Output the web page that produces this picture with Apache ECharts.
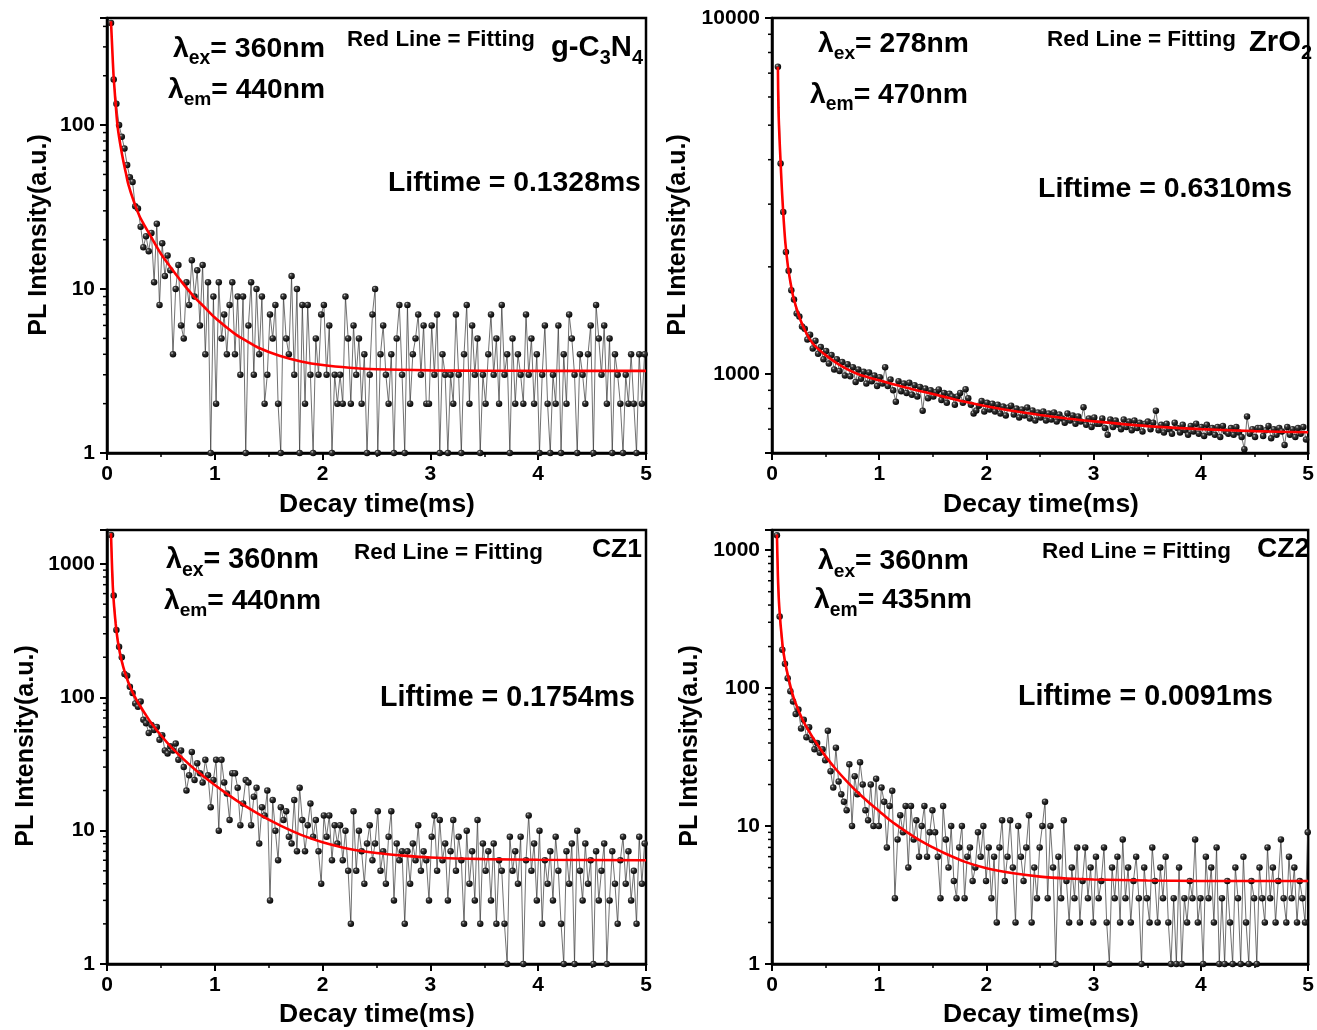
<!DOCTYPE html>
<html><head><meta charset="utf-8">
<script src="https://cdn.jsdelivr.net/npm/echarts/dist/echarts.min.js"></script>
<style>html,body{margin:0;padding:0;background:#fff}#c{width:1317px;height:1030px}</style>
</head><body><div id="c"></div>
<script>
// ---------------- DATA ----------------
// sampling: time = T0 + DT * index (ms)
const DT = 0.025;
const T0_P1 = 0.037, T0_P2 = 0.055, T0_P3 = 0.037, T0_P4 = 0.046;

// g-C3N4 counts
const I_P1 = [
420,190,135,100,85,72,57,48,45,32,
31,24,18,21,17,22,11,25,8,19,
12,16,13,4,10,14,6,5,11,8,
15,9,13,6,14,4,11,1,9,2,
11,5,7,4,8,11,4,9,3,9,
1,6,11,3,10,4,9,2,3,7,
5,8,2,1,9,5,4,12,3,10,
1,8,2,8,3,1,5,3,7,8,
3,6,1,3,2,3,2,9,5,2,
6,3,5,2,4,1,3,7,10,1,
4,6,3,2,4,1,5,8,3,1,
8,2,4,5,7,3,6,2,2,6,
3,7,1,4,3,1,3,2,7,3,
1,4,8,2,6,3,5,1,3,2,
4,7,3,5,2,8,3,4,1,5,
2,4,3,2,7,3,5,2,4,1,
3,6,2,1,3,2,6,1,4,2,
7,5,3,1,4,3,2,4,6,1,
8,5,3,6,2,5,1,4,3,2,
1,3,2,4,2,1,4,2,4];

// ZrO2 counts
const I_P2 = [
7300,3900,2850,2200,1950,1720,1620,1480,1450,1360,
1340,1250,1290,1180,1240,1140,1190,1100,1160,1070,
1130,1030,1100,1020,1080,990,1065,985,1045,950,
1030,970,1015,940,1010,955,990,925,980,940,
1045,925,965,900,836,955,895,940,885,945,
875,930,865,920,789,910,855,900,865,890,
905,845,885,830,880,865,820,865,885,830,
906,855,820,775,790,815,840,785,830,795,
825,785,820,775,810,765,805,815,770,800,
755,795,765,805,750,790,740,780,755,785,
740,775,745,780,735,770,750,730,775,740,
765,725,760,735,807,720,750,710,755,725,
725,750,705,675,745,710,740,720,700,745,
710,735,695,740,705,730,690,725,735,700,
730,789,695,720,685,725,700,680,730,705,
685,720,695,675,715,690,725,680,710,670,
720,685,705,675,710,665,715,690,680,705,
675,710,685,665,615,760,680,700,665,705,
705,670,695,715,660,700,675,705,690,632,
710,675,700,665,705,680,710,655];

// CZ1 counts
const I_P3 = [
1650,580,320,240,200,150,145,120,108,90,
85,93,68,64,54,62,57,60,48,52,
40,38,43,40,45,34,40,30,20,26,
39,24,32,27,23,34,26,15,24,34,
10,34,23,19,12,27,27,21,11,16,
24,23,11,18,21,8,15,13,20,3,
17,10,6,15,12,14,9,8,17,7,
21,12,7,11,16,9,12,7,4,13,
9,13,6,11,8,11,6,10,5,2,
14,5,10,7,4,8,11,6,8,14,
5,7,4,9,14,3,8,6,7,2,
7,4,8,6,11,5,7,6,3,9,
13,5,12,6,8,3,7,12,5,9,
6,2,10,4,7,3,12,2,8,5,
7,3,8,2,6,5,2,1,9,5,
7,4,9,1,6,13,5,8,3,10,
2,6,4,7,3,9,5,2,1,7,
4,8,1,10,5,3,8,4,6,1,
7,3,5,8,1,3,7,4,2,6,
9,4,7,3,5,2,9,4,8];

// CZ2 counts
const I_P4 = [
1285,330,190,150,118,95,80,65,70,51,
59,44,52,42,36,40,34,36,30,49,
25,19,37,21,17,15,13,28,10,23,
17,29,20,13,11,20,10,22,10,19,
15,7,14,18,3,8,12,9,14,5,
14,8,11,6,10,14,6,9,13,9,
6,3,14,8,5,10,4,3,7,10,
3,6,7,4,5,9,6,10,4,7,
3,6,2,7,11,4,6,11,5,2,
10,6,4,7,12,2,5,3,7,10,
15,3,10,5,1,6,3,11,4,2,
5,3,7,2,4,7,3,5,2,6,
3,4,7,2,1,5,3,6,2,8,
3,5,2,4,6,3,1,5,3,2,
7,4,2,5,3,6,2,1,3,1,
5,1,3,2,4,3,8,2,3,1,
6,3,5,2,7,1,3,1,4,2,
1,5,3,1,6,2,1,4,3,1,
5,3,2,7,3,5,2,4,8,3,
2,6,3,5,2,4,3,2,9];

// fitting curves
const FIT_T_P1 = [0.037,0.05,0.06,0.07,0.08,0.09,0.1,0.125,0.15,0.175,0.2,0.25,0.3,0.35,0.4,0.5,0.6,0.7,0.8,0.9,1.0,1.1,1.2,1.3,1.4,1.6,1.8,2.0,2.25,2.5,3.0,3.5,4.0,5.0];
const FIT_V_P1 = [430,280,205,165,135,112,96,75,61,51,43,34,28,24.3,21.3,16.4,13.3,10.9,9.1,7.8,6.7,5.9,5.25,4.8,4.4,3.92,3.62,3.44,3.31,3.24,3.19,3.175,3.17,3.17];
const FIT_T_P2 = [0.055,0.06,0.07,0.08,0.09,0.1,0.11,0.125,0.15,0.175,0.2,0.25,0.3,0.35,0.4,0.5,0.6,0.7,0.8,0.9,1.0,1.2,1.4,1.6,1.8,2.0,2.25,2.5,2.75,3.0,3.5,4.0,4.5,5.0];
const FIT_V_P2 = [7300,5600,4580,3950,3400,3000,2680,2330,1990,1790,1640,1460,1340,1255,1200,1130,1075,1032,1000,978,960,924,893,864,836,812,787,767,750,736,714,700,691,686];
const FIT_T_P3 = [0.037,0.05,0.06,0.07,0.08,0.09,0.1,0.125,0.15,0.175,0.2,0.25,0.3,0.35,0.4,0.5,0.6,0.7,0.8,0.9,1.0,1.1,1.2,1.3,1.4,1.5,1.6,1.8,2.0,2.25,2.5,2.75,3.0,3.5,4.0,5.0];
const FIT_V_P3 = [1700,800,560,440,360,305,265,205,170,146,128,104,88,76,66,52,42,35,29.5,25.4,22,19.2,16.9,15.0,13.4,12.1,11.0,9.3,8.2,7.3,6.8,6.5,6.3,6.12,6.05,6.0];
const FIT_T_P4 = [0.046,0.055,0.065,0.08,0.09,0.1,0.125,0.15,0.175,0.2,0.25,0.3,0.35,0.4,0.5,0.6,0.7,0.8,0.9,1.0,1.1,1.2,1.3,1.4,1.5,1.6,1.8,2.0,2.25,2.5,2.75,3.0,3.5,4.0,5.0];
const FIT_V_P4 = [1300,650,420,290,240,200,150,122,101,86,68,56,48,41.5,32,25.6,21,17.5,14.9,12.8,11.0,9.7,8.6,7.7,7.0,6.4,5.5,4.95,4.55,4.3,4.17,4.1,4.03,4.0,4.0];

const Y_MIN = [1, 600, 1, 1];
const Y_MAX = [450, 10000, 1800, 1400];
const X_TICKS = [0, 1, 2, 3, 4, 5];

const LAMBDA_EX = ['360nm', '278nm', '360nm', '360nm'];
const LAMBDA_EM = ['440nm', '470nm', '440nm', '435nm'];
const LIFETIME = ['0.1328ms', '0.6310ms', '0.1754ms', '0.0091ms'];

// ---------------- LAYOUT ----------------
const FONT = '"Liberation Sans", Arial, sans-serif';
const GRIDS = [
  {left:107, top:18, width:539, height:435},
  {left:772, top:18, width:539, height:435},
  {left:107, top:530, width:539, height:434},
  {left:772, top:530, width:539, height:434}
];

const cv = document.createElement('canvas').getContext('2d');
function textW(t, s){ cv.font = 'bold ' + s + 'px ' + FONT; return cv.measureText(t).width; }
function richLabel(parts, left, right, cy, subR, drop){
  subR = subR || 0.68; drop = drop == null ? 0.24 : drop;
  let tot = 0;
  parts.forEach(p => { tot += textW(p[0], p[1] ? 100*subR : 100); });
  const s = 100 * (right - left) / tot;
  let x = left; const els = [];
  parts.forEach(p => {
    const size = p[1] ? s*subR : s;
    const y = p[1] ? cy + 0.35*(s - size) + drop*s : cy;
    els.push({type:'text', x:x, y:y, silent:true, z:100,
      style:{text:p[0], fontSize:size, fontWeight:'bold', fontFamily:FONT, fill:'#000',
             align:'left', verticalAlign:'middle', textAlign:'left', textVerticalAlign:'middle'}});
    x += textW(p[0], size);
  });
  return els;
}

const ANN = [
  {ex:[173,325,49], em:[168,325,90], red:[347,535,39.5], name:[551,643,48], life:[388,641,183],
   nameParts:[['g-C',0],['3',1],['N',0],['4',1]]},
  {ex:[818,969,44], em:[810,968,95], red:[1047,1236,39.5], name:[1249,1312,43], life:[1038,1292,189.5],
   nameParts:[['ZrO',0],['2',1]]},
  {ex:[166,319,560.5], em:[164,321,601], red:[354,543,552.5], name:[592,642,550], life:[380,635,698],
   nameParts:[['CZ1',0]]},
  {ex:[818,969,561.5], em:[814,972,600.5], red:[1042,1231,551.5], name:[1257,1310,549], life:[1018,1273,697.5],
   nameParts:[['CZ2',0]]}
];
const YT = [[39,235],[678,235],[26,746],[690,746]];
const XT = [[377,505],[1041,505],[377,1015],[1041,1015]];

let graphics = [];
ANN.forEach((a, k) => {
  graphics = graphics.concat(richLabel([['λ',0],['ex',1],['= ' + LAMBDA_EX[k],0]], a.ex[0], a.ex[1], a.ex[2]));
  graphics = graphics.concat(richLabel([['λ',0],['em',1],['= ' + LAMBDA_EM[k],0]], a.em[0], a.em[1], a.em[2]));
  graphics = graphics.concat(richLabel([['Red Line = Fitting',0]], a.red[0], a.red[1], a.red[2]));
  graphics = graphics.concat(richLabel(a.nameParts, a.name[0], a.name[1], a.name[2]));
  graphics = graphics.concat(richLabel([['Liftime = ' + LIFETIME[k],0]], a.life[0], a.life[1], a.life[2]));
  graphics.push({type:'text', x:YT[k][0], y:YT[k][1], rotation:Math.PI/2, silent:true,
    style:{text:'PL Intensity(a.u.)', fontSize:25, fontWeight:'bold', fontFamily:FONT, fill:'#000',
           align:'center', verticalAlign:'middle', textAlign:'center', textVerticalAlign:'middle'}});
  graphics.push({type:'text', x:XT[k][0], y:XT[k][1], silent:true,
    style:{text:'Decay time(ms)', fontSize:26.5, fontWeight:'bold', fontFamily:FONT, fill:'#000',
           align:'center', verticalAlign:'middle', textAlign:'center', textVerticalAlign:'middle'}});
});

const SPHERE = {type:'radial', x:0.36, y:0.32, r:0.72, colorStops:[
  {offset:0, color:'#d0d0d0'}, {offset:0.28, color:'#3a3a3a'}, {offset:1, color:'#000'}]};

const DATA = [I_P1, I_P2, I_P3, I_P4];
const T0 = [T0_P1, T0_P2, T0_P3, T0_P4];
const FITS = [[FIT_T_P1, FIT_V_P1],[FIT_T_P2, FIT_V_P2],[FIT_T_P3, FIT_V_P3],[FIT_T_P4, FIT_V_P4]];

function minorVals(mn, mx){
  const out = [];
  for (let e = 0; e <= 4; e++) for (let m = 2; m <= 9; m++){
    const v = m * Math.pow(10, e);
    if (v > mn && v < mx) out.push([0, v]);
  }
  return out;
}
function isPow10(v){ const l = Math.log10(v); return Math.abs(l - Math.round(l)) < 1e-6; }

const axisText = {fontWeight:'bold', fontSize:21, color:'#000', fontFamily:FONT};
const grid = [], xAxis = [], yAxis = [], series = [];
for (let k = 0; k < 4; k++){
  grid.push(Object.assign({show:true, borderColor:'#000', borderWidth:2.5, backgroundColor:'transparent', containLabel:false}, GRIDS[k]));
  xAxis.push({type:'value', gridIndex:k, min:X_TICKS[0], max:X_TICKS[X_TICKS.length-1], interval:1,
    axisLine:{show:true, onZero:false, lineStyle:{color:'#000', width:2.5}},
    axisTick:{show:true, length:7, lineStyle:{color:'#000', width:2}},
    minorTick:{show:true, splitNumber:2, length:4, lineStyle:{color:'#000', width:1.5}},
    splitLine:{show:false}, minorSplitLine:{show:false},
    axisLabel:Object.assign({margin:11}, axisText)});
  yAxis.push({type:'log', logBase:10, gridIndex:k, min:Y_MIN[k], max:Y_MAX[k],
    axisLine:{show:true, lineStyle:{color:'#000', width:2.5}},
    axisTick:{show:true, length:7, lineStyle:{color:'#000', width:2}},
    minorTick:{show:false}, splitLine:{show:false},
    axisLabel:Object.assign({margin:12, formatter:(v) => isPow10(v) ? String(Math.round(v)) : ''}, axisText)});
  const pts = DATA[k].map((v, i) => [+(T0[k] + DT*i).toFixed(4), v]);
  series.push({type:'line', xAxisIndex:k, yAxisIndex:k, data:pts, symbol:'circle', symbolSize:6.5,
    showSymbol:true, showAllSymbol:true, lineStyle:{color:'#333', width:0.7}, itemStyle:{color:SPHERE},
    z:2, animation:false, emphasis:{disabled:true}, silent:true});
  const fit = FITS[k][0].map((t, i) => [t, FITS[k][1][i]]);
  series.push({type:'line', xAxisIndex:k, yAxisIndex:k, data:fit, symbol:'none', smooth:0.3,
    lineStyle:{color:'#ff0000', width:2.6}, z:3, animation:false, silent:true});
  series.push({type:'custom', xAxisIndex:k, yAxisIndex:k, data:minorVals(Y_MIN[k], Y_MAX[k]), clip:false,
    encode:{x:0, y:1}, silent:true, animation:false, z:4,
    renderItem:(params, api) => {
      const p = api.coord([0, api.value(1)]);
      return {type:'line', shape:{x1:p[0]-4, y1:p[1], x2:p[0], y2:p[1]}, style:{stroke:'#000', lineWidth:1.5}};
    }});
}

const chart = echarts.init(document.getElementById('c'), null, {renderer:'canvas'});
chart.setOption({backgroundColor:'#fff', animation:false, grid, xAxis, yAxis, series, graphic:{elements:graphics}});
</script>
</body></html>
